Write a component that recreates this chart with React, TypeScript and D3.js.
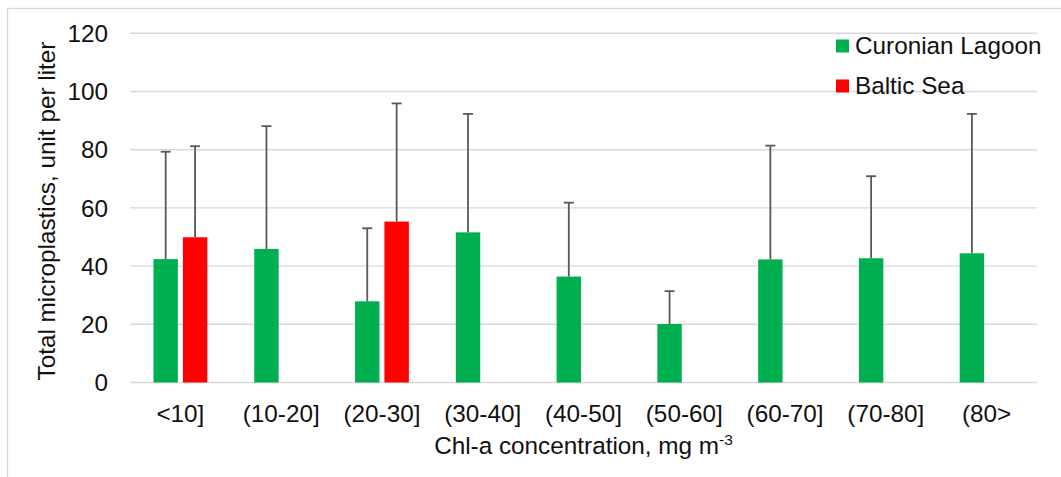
import React from "react";
import * as d3 from "d3";

const categories = ["<10]", "(10-20]", "(20-30]", "(30-40]", "(40-50]", "(50-60]", "(60-70]", "(70-80]", "(80>"];
const seriesNames = ["Curonian Lagoon", "Baltic Sea"];
const seriesColors = ["#00b050", "#ff0000"];
const curonianMeans = [42.4, 45.9, 27.9, 51.6, 36.4, 20.1, 42.3, 42.7, 44.4];
const curonianUpper = [79.3, 88.1, 53.0, 92.3, 61.8, 31.4, 81.4, 70.9, 92.3];
const balticMeans: (number | null)[] = [49.9, null, 55.3, null, null, null, null, null, null];
const balticUpper: (number | null)[] = [81.2, null, 95.9, null, null, null, null, null, null];
const yTicks = [0, 20, 40, 60, 80, 100, 120];

const W = 1061;
const H = 477;
const FONT = "'Liberation Sans', Arial, sans-serif";
const FS = 24.3;

export default function App() {
  const left = 130;
  const right = 1037;
  const top = 33.3;
  const bottom = 382.5;

  const x = d3.scaleBand<string>().domain(categories).range([left, right]).paddingInner(0.466).paddingOuter(0.233);
  const x1 = d3.scaleBand<string>().domain(seriesNames).range([0, x.bandwidth()]).paddingInner(0.17).paddingOuter(0);
  const y = d3.scaleLinear().domain([0, 120]).range([bottom, top]);

  const data = [
    { name: seriesNames[0], color: seriesColors[0], means: curonianMeans as (number | null)[], upper: curonianUpper as (number | null)[] },
    { name: seriesNames[1], color: seriesColors[1], means: balticMeans, upper: balticUpper },
  ];

  const bw = x1.bandwidth();
  const capW = 10;

  return (
    <div style={{ position: "fixed", left: 0, top: 0 }}>
      <svg width={W} height={H} style={{ display: "block", background: "#fff" }}>
        <rect x={7.5} y={8.5} width={W + 10} height={H + 10} fill="#fff" stroke="#d9d9d9" strokeWidth={1.3} />
        {yTicks.map((t) => (
          <g key={t}>
            <line x1={left} x2={right} y1={y(t)} y2={y(t)} stroke="#d9d9d9" strokeWidth={1.4} />
            <text x={108} y={y(t)} dy="0.36em" textAnchor="end" fontFamily={FONT} fontSize={FS} fill="#111">
              {t}
            </text>
          </g>
        ))}
        {data.map((s) =>
          categories.map((c, i) => {
            const v = s.means[i];
            if (v == null) return null;
            const bx = (x(c) as number) + (x1(s.name) as number);
            const up = s.upper[i] as number;
            const cx = bx + bw / 2;
            return (
              <g key={s.name + c}>
                <rect x={bx} y={y(v)} width={bw} height={y(0) - y(v)} fill={s.color} />
                <line x1={cx} x2={cx} y1={y(v)} y2={y(up)} stroke="#595959" strokeWidth={1.8} />
                <line x1={cx - capW / 2} x2={cx + capW / 2} y1={y(up)} y2={y(up)} stroke="#595959" strokeWidth={1.8} />
              </g>
            );
          })
        )}
        {categories.map((c) => (
          <text
            key={c}
            x={(x(c) as number) + x.bandwidth() / 2}
            y={421.5}
            textAnchor="middle"
            fontFamily={FONT}
            fontSize={FS}
            fill="#111"
          >
            {c}
          </text>
        ))}
        <text x={(left + right) / 2} y={454} textAnchor="middle" fontFamily={FONT} fontSize={FS} fill="#111">
          Chl-a concentration, mg m
          <tspan fontSize={15.5} dy={-9}>-3</tspan>
        </text>
        <text
          transform={`translate(55, 211) rotate(-90)`}
          textAnchor="middle"
          fontFamily={FONT}
          fontSize={FS}
          fill="#111"
        >
          Total microplastics, unit per liter
        </text>
        {data.map((s, i) => (
          <g key={s.name} transform={`translate(836, ${39.5 + i * 40})`}>
            <rect x={0} y={0} width={13} height={13} fill={s.color} />
            <text x={19} y={14.5} fontFamily={FONT} fontSize={FS} fill="#111">
              {s.name}
            </text>
          </g>
        ))}
      </svg>
    </div>
  );
}
